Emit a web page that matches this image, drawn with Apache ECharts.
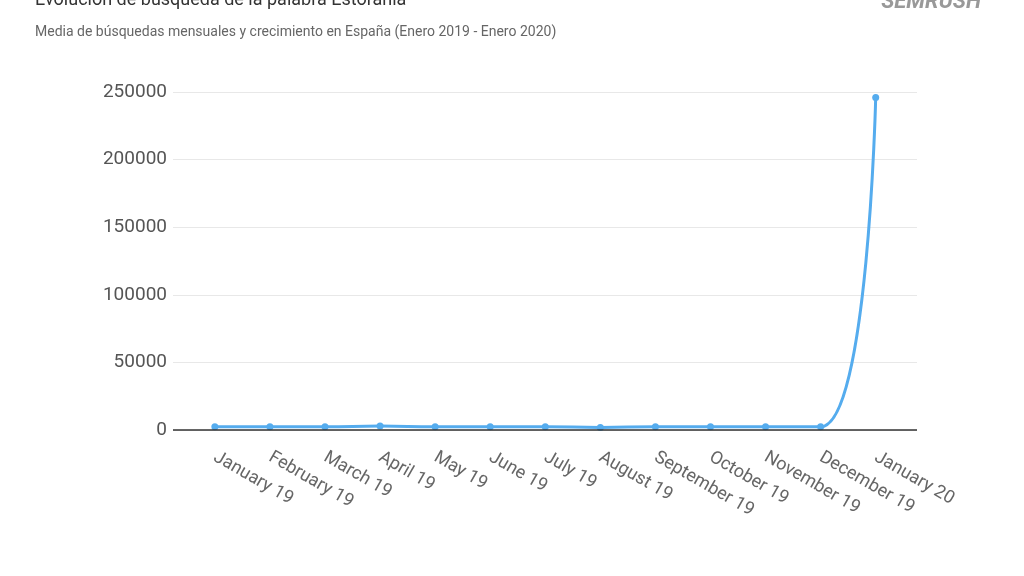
<!DOCTYPE html><html><head><meta charset="utf-8"><script src="https://cdn.jsdelivr.net/npm/echarts@6/dist/echarts.min.js"></script>
<style>html,body{margin:0;background:#fff}#c{width:1024px;height:576px}</style></head><body><div id="c"></div><script>
const categories=['January 19','February 19','March 19','April 19','May 19','June 19','July 19','August 19','September 19','October 19','November 19','December 19','January 20'];
const searches=[2400,2400,2400,2900,2400,2400,2400,1900,2400,2400,2400,2400,246000];
const chart=echarts.init(document.getElementById('c'));
chart.setOption({
 animation:false,
 title:[{text:'Evolución de búsqueda de la palabra Estorania',left:30,top:-14,textStyle:{fontFamily:'Roboto',fontSize:18,fontWeight:'normal',color:'#333'}},
  {text:'Media de búsquedas mensuales y crecimiento en España (Enero 2019 - Enero 2020)',left:30,top:20,textStyle:{fontFamily:'Roboto',fontSize:14,fontWeight:'normal',color:'#666'}},
  {text:'SEMRUSH',right:38,top:-14,textStyle:{fontFamily:'Roboto',fontSize:22,fontWeight:'bold',fontStyle:'italic',color:'#999'}}],
 grid:{left:173,right:107,top:92,bottom:146},
 xAxis:{type:'value',min:-0.76,max:12.75,splitLine:{show:false},axisLine:{show:false},axisTick:{show:false},
  axisLabel:{customValues:categories.map((c,i)=>i),formatter:v=>categories[Math.round(v)],rotate:-30,fontFamily:'Roboto',fontSize:18,color:'#666',margin:26,align:'left'}},
 yAxis:{type:'value',min:0,max:250000,interval:50000,
  axisLabel:{formatter:v=>String(v),fontFamily:'Roboto',fontSize:19,color:'#555',margin:6},
  splitLine:{lineStyle:{color:'#e8e8e8'}},axisLine:{show:false},axisTick:{show:false}},
 series:[{type:'line',data:searches.map((v,i)=>[i,v]),smooth:0.5,symbol:'circle',symbolSize:7,
  lineStyle:{color:'#55acee',width:3},itemStyle:{color:'#55acee'},
  markLine:{silent:true,symbol:'none',label:{show:false},lineStyle:{color:'#333',width:1.5,type:'solid'},data:[{yAxis:0}]}}]
});
</script></body></html>
